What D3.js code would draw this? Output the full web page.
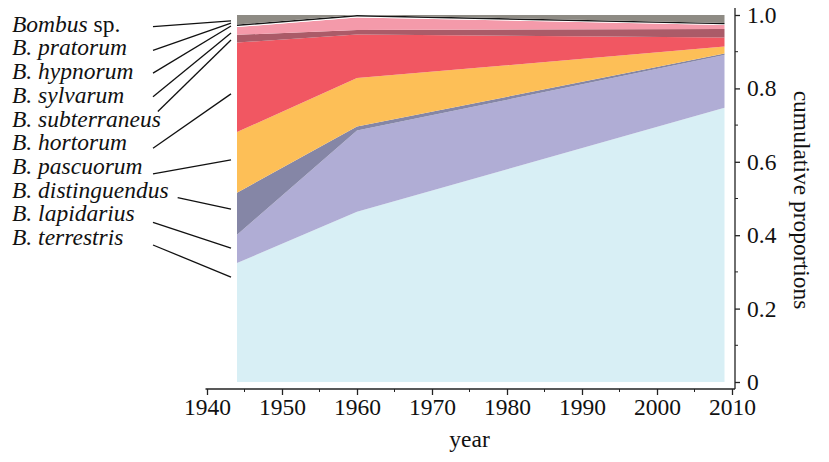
<!DOCTYPE html>
<html>
<head>
<meta charset="utf-8">
<script src="https://cdn.jsdelivr.net/npm/d3@7"></script>
<style>
  body { margin: 0; background: #fff; }
  text { font-family: 'Liberation Serif', 'Times New Roman', Times, serif; }
</style>
</head>
<body>
<svg id="chart" width="829" height="462"></svg>
<script>
// survey years
const years = [1944, 1960, 2009];

// species, bottom of the stack first
const species = ['terrestris', 'lapidarius', 'distinguendus', 'pascuorum', 'hortorum',
                 'subterraneus', 'sylvarum', 'hypnorum', 'pratorum', 'sp'];

// proportion of each species in each year
const terrestris    = [0.324, 0.464, 0.747];
const lapidarius    = [0.077, 0.221, 0.144];
const distinguendus = [0.115, 0.011, 0.004];
const pascuorum     = [0.165, 0.132, 0.019];
const hortorum      = [0.244, 0.119, 0.025];
const subterraneus  = [0.021, 0.012, 0.023];
const sylvarum      = [0.021, 0.034, 0.011];
const hypnorum      = [0.003, 0.003, 0.002];
const pratorum      = [0.004, 0.004, 0.003];
const bombusSp      = [0.026, 0.000, 0.022];

const colours = ['#d8eff5', '#b0add5', '#8586a6', '#fdbf57', '#f15762',
                 '#ab5b68', '#f49aaa', '#ffffff', '#161616', '#8e8b84'];

// legend, top to bottom
const labelNames = ['Bombus', 'pratorum', 'hypnorum', 'sylvarum', 'subterraneus',
                    'hortorum', 'pascuorum', 'distinguendus', 'lapidarius', 'terrestris'];
// value on the y axis where each leader line meets the 1944 edge
const labelTargets = [0.984, 0.978, 0.970, 0.951, 0.932, 0.785, 0.605, 0.471, 0.365, 0.286];

const yTicks = [0, 0.2, 0.4, 0.6, 0.8, 1.0];

const series = {terrestris, lapidarius, distinguendus, pascuorum, hortorum,
                subterraneus, sylvarum, hypnorum, pratorum, sp: bombusSp};

const table = years.map((yr, i) => {
  const row = {year: yr};
  species.forEach(s => row[s] = series[s][i]);
  return row;
});

const FONT = "'Liberation Serif', 'Times New Roman', Times, serif";
const FS = 23.5;
const svg = d3.select('#chart');

const x = d3.scaleLinear().domain([1940, 2010]).range([207, 732]);
const y = d3.scaleLinear().domain([0, 1]).range([382, 15]);

const stack = d3.stack().keys(species);
const layers = stack(table);

const area = d3.area()
  .x(d => x(d.data.year))
  .y0(d => y(d[0]))
  .y1(d => y(d[1]));

svg.append('g')
  .selectAll('path')
  .data(layers)
  .join('path')
    .attr('fill', (d, i) => colours[i])
    .attr('d', area);

// x axis
const xAxis = svg.append('g').attr('transform', 'translate(0,389)');
xAxis.append('line')
  .attr('x1', x(1939.8)).attr('x2', 735)
  .attr('stroke', '#222').attr('stroke-width', 1.3);
xAxis.call(d3.axisBottom(x).tickValues(d3.range(1940, 2011, 10))
    .tickSize(6).tickPadding(3).tickFormat(d3.format('d')))
  .call(g => g.select('.domain').remove())
  .attr('font-family', FONT)
  .attr('font-size', FS);
xAxis.append('g')
  .selectAll('line')
  .data(d3.range(1945, 2010, 10))
  .join('line')
    .attr('x1', d => x(d)).attr('x2', d => x(d))
    .attr('y1', 0).attr('y2', 3)
    .attr('stroke', '#222');
xAxis.selectAll('.tick line').attr('stroke', '#222').attr('stroke-width', 1.3);
xAxis.selectAll('.tick text').attr('fill', '#111');

// y axis on the right
const yAxis = svg.append('g').attr('transform', 'translate(735,0)');
yAxis.append('line')
  .attr('y1', 8).attr('y2', 389)
  .attr('stroke', '#222').attr('stroke-width', 1.3);
yAxis.call(d3.axisRight(y).tickValues(yTicks).tickSize(5).tickPadding(7)
    .tickFormat(d => d === 0 ? '0' : d3.format('.1f')(d)))
  .call(g => g.select('.domain').remove())
  .attr('font-family', FONT)
  .attr('font-size', FS);
yAxis.append('g')
  .selectAll('line')
  .data(d3.range(0.1, 1, 0.2))
  .join('line')
    .attr('y1', d => y(d)).attr('y2', d => y(d))
    .attr('x1', 0).attr('x2', 3)
    .attr('stroke', '#222');
yAxis.selectAll('.tick line').attr('stroke', '#222').attr('stroke-width', 1.3);
yAxis.selectAll('.tick text').attr('fill', '#111');

// axis titles
svg.append('text')
  .attr('x', (x(1940) + x(2010)) / 2).attr('y', 447)
  .attr('text-anchor', 'middle')
  .attr('font-family', FONT)
  .attr('font-size', FS).attr('fill', '#111')
  .text('year');

svg.append('text')
  .attr('transform', 'translate(794,200) rotate(90)')
  .attr('text-anchor', 'middle')
  .attr('font-family', FONT)
  .attr('font-size', FS).attr('fill', '#111')
  .text('cumulative proportions');

// species labels with leader lines
const legend = svg.append('g');
const rowH = 23.7, firstBase = 31.7;
const leaderDy = [-5, -5, -6, -6, -15, -2, 0, 0, 1, 0];

labelNames.forEach((name, i) => {
  const base = firstBase + i * rowH;
  const t = legend.append('text')
    .attr('x', 12).attr('y', base)
    .attr('font-family', FONT)
    .attr('font-size', FS).attr('fill', '#111');
  if (name === 'Bombus') {
    t.append('tspan').attr('font-style', 'italic').text('Bombus');
    t.append('tspan').text(' sp.');
  } else {
    t.append('tspan').attr('font-style', 'italic').text('B. ' + name);
  }
  const end = 12 + t.node().getComputedTextLength();
  const sx = name === 'subterraneus' ? end - 3 : Math.max(153, end + 9);
  legend.append('line')
    .attr('x1', sx).attr('y1', base + leaderDy[i])
    .attr('x2', x(years[0]) - 6).attr('y2', y(labelTargets[i]))
    .attr('stroke', '#111').attr('stroke-width', 1.3);
});
</script>
</body>
</html>
